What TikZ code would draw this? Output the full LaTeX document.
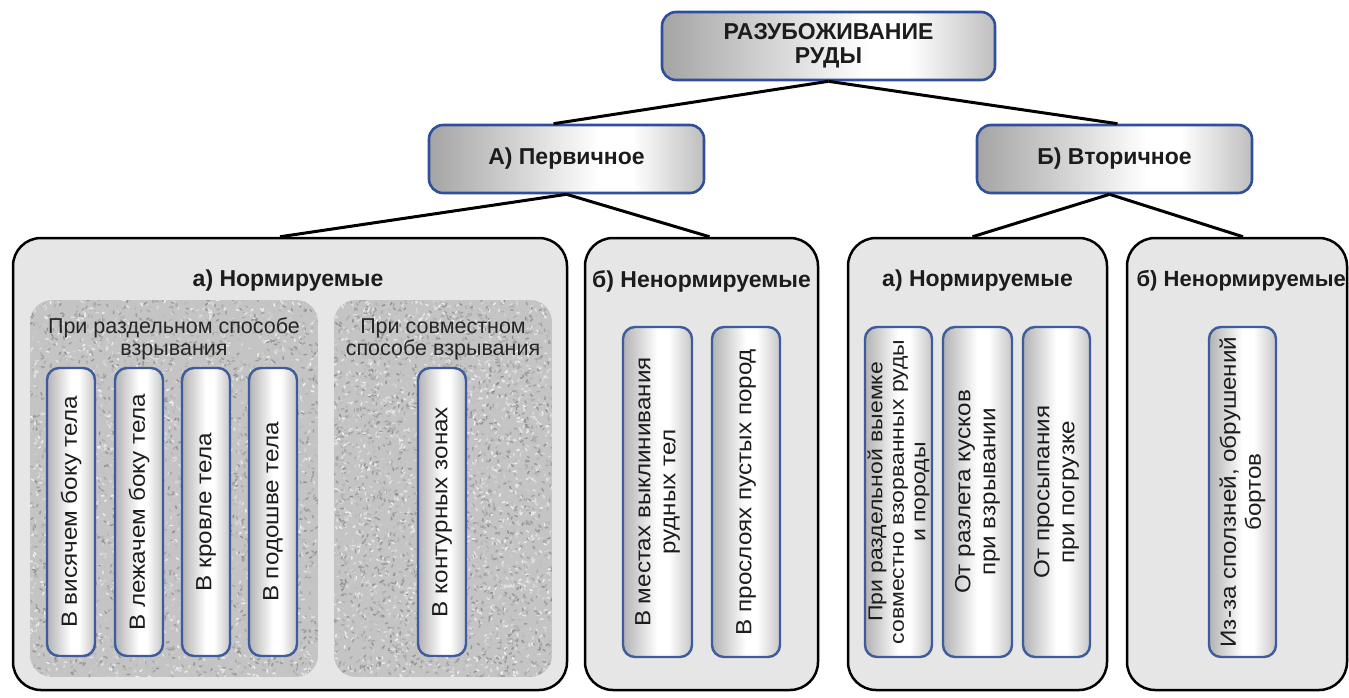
\documentclass[tikz,border=0pt]{standalone}
\usepackage{fontspec}
\setmainfont{Liberation Sans}
\newfontfamily\widefont[FakeStretch=1.1]{Liberation Sans}
\newfontfamily\widerfont[FakeStretch=1.15]{Liberation Sans}
\definecolor{panelfill}{HTML}{E6E6E7}
\definecolor{hblue}{HTML}{2F4F9A}
\definecolor{pblue}{HTML}{3E5B9B}
\definecolor{txt}{HTML}{1C1C1C}
\definecolor{mA}{HTML}{A4A4A4}
\definecolor{mB}{HTML}{BEBEBE}
\definecolor{pA}{HTML}{B2B2B2}
\definecolor{pB}{HTML}{C6C6C6}
\definecolor{texbase}{HTML}{C4C4C4}
\pgfdeclarehorizontalshading{metal}{100bp}{color(0bp)=(mA); color(25bp)=(mA); color(56bp)=(white); color(62bp)=(white); color(75bp)=(mB); color(100bp)=(mB)}
\pgfdeclarehorizontalshading{pillmetal}{100bp}{color(0bp)=(pA); color(25bp)=(pA); color(50bp)=(white); color(58bp)=(white); color(75bp)=(pB); color(100bp)=(pB)}
\newcommand\mytitlefont{\bfseries\fontsize{23}{24}\selectfont}
\newcommand\mypillfont{\widefont\fontsize{22}{25}\selectfont}
\newcommand\mysmallpillfont{\widerfont\fontsize{20}{21.5}\selectfont}
\newcommand\mygroupfont{\fontsize{21.5}{22}\selectfont}
\newcommand\texturebox[4]{%
  \begin{scope}
    \clip[rounded corners=22pt] (#1,#2) rectangle (#3,#4);
    \fill[texbase] (#1,#2) rectangle (#3,#4);
    \foreach \i in {1,...,4200}{%
      \pgfmathsetmacro\xx{#1+(#3-#1)*rnd}%
      \pgfmathsetmacro\yy{#2+(#4-#2)*rnd}%
      \pgfmathsetmacro\aa{360*rnd}%
      \pgfmathsetmacro\gv{int(6+38*rnd)}%
      \draw[black!\gv, line width=1.5pt, line cap=round] (\xx,\yy) -- ++(\aa:2.5);
    }
  \end{scope}}
\tikzset{
  headbox/.style={draw=hblue, line width=2.6pt, rounded corners=14pt, shading=metal, align=center, font=\mytitlefont, text=txt, inner sep=0pt},
  panel/.style={draw=black, line width=2.5pt, fill=panelfill, rounded corners=28pt, inner sep=0pt},
  pill/.style={draw=pblue, line width=2.4pt, rounded corners=12pt, shading=pillmetal, inner sep=0pt},
  pilltext/.style={rotate=90, align=center, font=\mypillfont, text=txt, inner sep=0pt},
  conn/.style={draw=black, line width=3pt},
  paneltitle/.style={font=\mytitlefont, text=txt, inner sep=0pt},
  grouptitle/.style={font=\mygroupfont, text=black!85, align=center, inner sep=0pt}
}
\begin{document}
\begin{tikzpicture}[x=1pt,y=-1pt]
\useasboundingbox (0,0) rectangle (1349,697);
\pgfmathsetseed{11}
% header boxes
\node[headbox, minimum width=333pt, minimum height=68pt] (top) at (828.5,46) {РАЗУБОЖИВАНИЕ\\РУДЫ};
\node[headbox, minimum width=275pt, minimum height=68pt] (A) at (566.5,159) {А) Первичное};
\node[headbox, minimum width=275pt, minimum height=68pt] (B) at (1114.5,159) {Б) Вторичное};
% panels
\node[panel, minimum width=554pt, minimum height=452pt] (L) at (290,464) {};
\node[panel, minimum width=233pt, minimum height=452pt] (N) at (701.5,464) {};
\node[panel, minimum width=259pt, minimum height=452pt] (R) at (977.5,464) {};
\node[panel, minimum width=220pt, minimum height=452pt] (S) at (1237,464) {};
% connectors
\draw[conn] (top.south) -- ([xshift=-13pt]A.north);
\draw[conn] (top.south) -- ([xshift=3pt]B.north);
\draw[conn] (A.south) -- ([xshift=-10pt]L.north);
\draw[conn] (A.south) -- ([xshift=8pt]N.north);
\draw[conn] ([xshift=-5pt]B.south) -- ([xshift=-5pt]R.north);
\draw[conn] ([xshift=-5pt]B.south) -- ([xshift=6pt]S.north);
% panel titles
\node[paneltitle] (Lt) at (288,281) {а) Нормируемые};
\node[paneltitle] (Nt) at (701.5,281) {б) Ненормируемые};
\node[paneltitle] (Rt) at (977.5,281) {а) Нормируемые};
\node[paneltitle, font=\bfseries\fontsize{22}{24}\selectfont, anchor=east] (St) at (1346,281) {б) Ненормируемые};
% textured groups
\texturebox{30}{300}{318}{677}
\texturebox{334}{300}{552}{677}
\node[grouptitle] (g1) at (174,339) {При раздельном способе\\взрывания};
\node[grouptitle] (g2) at (443,339) {При совместном\\способе взрывания};
% pills left
\node[pill, minimum width=48pt, minimum height=288pt] (p1) at (71,512) {};
\node[pill, minimum width=48pt, minimum height=288pt] (p2) at (139,512) {};
\node[pill, minimum width=48pt, minimum height=288pt] (p3) at (206,512) {};
\node[pill, minimum width=48pt, minimum height=288pt] (p4) at (273,512) {};
\node[pill, minimum width=48pt, minimum height=288pt] (p5) at (442,512) {};
\node[pilltext] at (p1.center) {В висячем боку тела};
\node[pilltext] at (p2.center) {В лежачем боку тела};
\node[pilltext] at (p3.center) {В кровле тела};
\node[pilltext] at (p4.center) {В подошве тела};
\node[pilltext] at (p5.center) {В контурных зонах};
% pills N
\node[pill, minimum width=69pt, minimum height=330pt] (n1) at (657.5,492) {};
\node[pill, minimum width=68pt, minimum height=330pt] (n2) at (746,492) {};
\node[pilltext] at (n1.center) {В местах выклинивания\\рудных тел};
\node[pilltext] at (n2.center) {В прослоях пустых пород};
% pills R
\node[pill, minimum width=67pt, minimum height=330pt] (r1) at (898.5,492) {};
\node[pill, minimum width=69pt, minimum height=330pt] (r2) at (977.5,492) {};
\node[pill, minimum width=67pt, minimum height=330pt] (r3) at (1056.5,492) {};
\node[pilltext, font=\mysmallpillfont] at (r1.center) {При раздельной выемке\\совместно взорванных руды\\и породы};
\node[pilltext] at (r2.center) {От разлета кусков\\при взрывании};
\node[pilltext] at (r3.center) {От просыпания\\при погрузке};
% pill S
\node[pill, minimum width=67pt, minimum height=330pt] (s1) at (1242.5,492) {};
\node[pilltext] at (s1.center) {Из-за сползней, обрушений\\бортов};
\end{tikzpicture}
\end{document}
